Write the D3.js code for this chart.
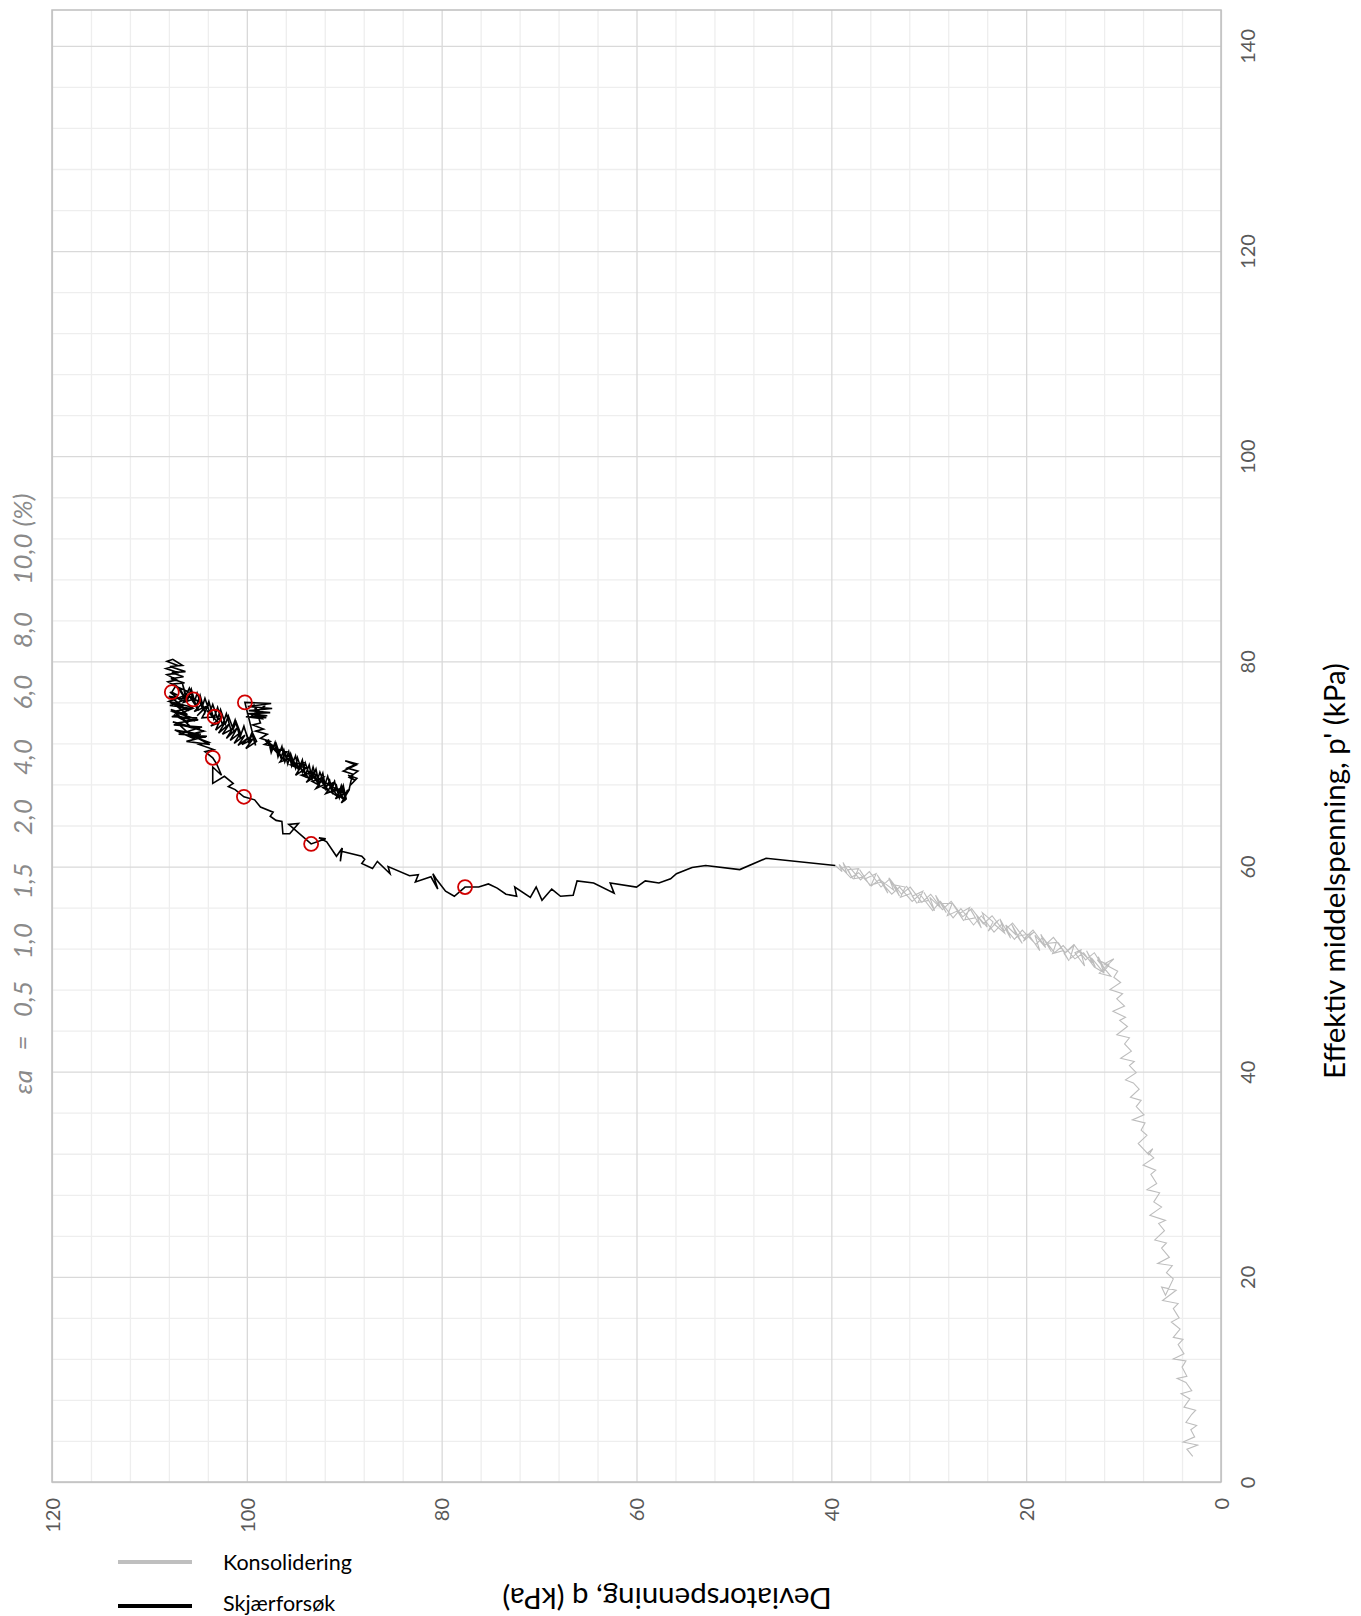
<!DOCTYPE html>
<html><head><meta charset="utf-8">
<script src="https://cdn.jsdelivr.net/npm/d3@7"></script>
<style>
body{margin:0;background:#fff}
svg{display:block}
text{font-family:Lato,"Open Sans",sans-serif}
</style>
</head><body>
<svg id="chart" width="1361" height="1616"></svg>
<script>
// ---------- data ----------
const qTicks = [120, 100, 80, 60, 40, 20, 0];
const pTicks = [0, 20, 40, 60, 80, 100, 120, 140];
const qTickLabels = ["120", "100", "80", "60", "40", "20", "0"];
const pTickLabels = ["0", "20", "40", "60", "80", "100", "120", "140"];
const qMinorTicks = [4,8,12,16,24,28,32,36,44,48,52,56,64,68,72,76,84,88,92,96,104,108,112,116];
const pMinorTicks = [4,8,12,16,24,28,32,36,44,48,52,56,64,68,72,76,84,88,92,96,104,108,112,116,124,128,132,136];

// Konsolidering (q, p') - rising part
const consolidationRise = [
[2.9,2.5],[3.5,3.2],[2.4,3.6],[3.9,3.9],[2.7,4.4],[3.1,5.1],[2.5,5.5],[3.6,5.8],[3.0,6.6],[2.6,7.0],[3.8,7.3],[3.2,8.1],[4.1,8.6],[3.0,8.9],[3.6,9.7],[4.5,10.1],[3.5,10.3],[4.0,11.2],[3.6,11.8],[4.9,12.0],[3.8,12.5],[4.4,13.4],[3.9,13.9],[4.9,14.1],[4.2,14.9],[5.1,15.6],[4.3,16.0],[4.9,16.9],[4.4,17.4],[6.0,17.7],[4.6,18.7],[6.1,19.0],[5.7,18.2],[4.9,19.8],[5.6,20.4],[5.0,21.1],[6.5,21.3],[5.3,21.9],[6.1,22.8],[5.6,23.3],[6.8,23.6],[5.8,24.5],[6.4,25.2],[5.7,25.5],[7.3,26.0],[6.1,26.8],[6.9,27.3],[6.3,28.2],[7.6,28.5],[6.6,29.1],[7.2,30.0],[6.7,30.4],[8.0,30.9],[6.9,31.6],[7.5,32.1],[7.0,32.5],[7.4,31.9],[8.5,33.0],[7.6,33.8],[8.2,34.3],[7.8,35.0],[9.1,35.3],[7.9,35.8],[8.7,36.6],[8.2,37.2],[9.3,37.5],[8.4,38.3],[9.0,38.9],[9.8,39.2],[8.7,39.9],[9.4,40.6],[8.9,41.0],[10.3,41.3],[9.2,42.0],[9.9,42.7],[9.4,43.3],[10.7,43.6],[9.6,44.4],[10.4,45.0],[9.8,45.3],[11.1,45.9],[9.9,46.4],[10.7,47.1],[10.1,47.6],[11.4,48.0],[10.3,48.7],[11.0,49.2],[10.6,49.8],
[12.0,50.5],[11.0,51.0],[12.5,49.6],[11.3,49.3],[12.7,50.9],[11.5,50.4],[12.1,49.7]
];
// Konsolidering - diagonal part, three passes
const consolidationPassA = [
[13.0,50.2],[14.1,51.6],[15.0,51.0],[16.2,52.3],[17.1,51.6],[18.3,53.1],[19.0,52.4],[20.4,53.8],[21.2,52.9],[22.5,54.4],[23.3,53.6],[24.6,55.2],[25.4,54.3],[26.7,55.9],[27.5,55.0],[28.8,56.6],[29.6,55.7],[30.9,57.3],[31.7,56.6],[33.0,58.0],[33.8,57.3],[35.1,58.7],[35.9,58.1],[37.2,59.4],[38.0,58.9],[39.0,59.9]
];
const consolidationPassB = [
[38.2,60.0],[37.0,58.7],[36.1,59.5],[34.9,58.0],[34.0,58.8],[32.8,57.3],[31.9,58.0],[30.7,56.5],[29.8,57.3],[28.6,55.8],[27.7,56.6],[26.5,55.1],[25.6,55.9],[24.4,54.4],[23.5,55.2],[22.3,53.7],[21.4,54.5],[20.2,53.0],[19.3,53.8],[18.1,52.3],[17.2,53.1],[16.0,51.6],[15.1,52.4],[13.9,50.9],[13.0,51.6],[12.0,50.1]
];
const consolidationPassC = [
[12.6,51.2],[12.0,49.6],[13.3,51.1],[12.9,50.2],[13.8,51.8],[13.2,50.6],[14.4,51.7],[14.0,50.3],[15.0,51.6],[14.3,51.9],[15.5,51.0],[15.1,52.3],[16.1,51.5],[15.6,50.8],[16.7,52.6],[16.2,51.8],[17.3,51.5],[16.9,52.6],[17.9,52.5],[17.4,51.7],[18.5,53.4],[18.0,52.1],[19.1,53.3],[18.6,51.8],[19.7,53.3],[19.2,53.6],[20.3,52.7],[19.8,53.4],[20.9,53.2],[20.4,52.5],[21.5,54.4],[21.0,53.3],[22.1,54.3],[21.6,53.0],[22.7,54.9],[22.2,53.5],[23.3,54.4],[22.8,54.8],[23.9,53.7],[23.4,54.6],[24.5,55.5],[24.0,54.1],[25.1,55.3],[24.6,54.0],[25.7,55.8],[25.2,55.0],[26.3,54.8],[25.8,56.0],[26.9,55.4],[26.4,54.7],[27.5,56.3],[27.0,55.7],[28.1,55.2],[27.6,56.4],[28.7,56.4],[28.2,55.5],[29.3,57.2],[28.8,56.0],[29.9,57.0],[29.4,55.7],[30.5,57.5],[30.0,56.7],[31.1,56.5],[30.6,57.6],[31.7,57.1],[31.2,56.4],[32.3,58.1],[31.8,57.4],[32.9,57.0],[32.4,58.0],[33.5,58.2],[33.0,57.1],[34.1,58.9],[33.6,57.7],[34.7,58.5],[34.2,57.4],[35.3,59.2],[34.8,58.5],[35.9,58.2],[35.4,59.3],[36.5,58.8],[36.0,58.1],[37.1,59.7],[36.6,59.0],[37.7,58.8],[37.2,59.8],[38.3,59.7],[37.8,58.8],[38.8,60.4],[38.4,59.3],[39.2,60.2],[38.9,59.5],[39.6,60.1]
];

// Skjærforsøk (q, p') - lower path up to eps = 2 %
const shearRise = [
[39.6,60.1],[46.7,60.8],[49.4,59.7],[52.9,60.1],[54.3,59.9],[55.9,59.3],[56.5,58.8],[57.7,58.4],[59.1,58.6],[60.0,58.0],[62.7,58.4],[62.3,57.4],[64.4,58.4],[66.1,58.6],[66.5,57.2],[67.8,57.1],[68.7,57.8],[69.7,56.7],[70.3,58.0],[70.9,57.0],[72.5,58.0],[72.3,57.1],[73.4,57.3],[74.3,57.9],[75.2,58.3],[76.2,58.0],[77.6,58.0],[78.7,57.1],[79.6,57.6],[80.5,58.7],[80.9,59.3],[80.4,57.8],[81.1,59.0],[82.7,58.5],[82.4,59.2],[83.3,59.1],[85.5,60.0],[85.3,59.3],[86.6,60.5],[87.1,59.8],[88.2,60.3],[87.9,60.7],[88.2,61.0],[90.3,61.5],[90.4,60.5],[90.2,61.8],[90.8,61.0],[91.8,62.4],[92.6,62.8],[91.9,62.7],[93.4,62.2],[95.7,64.1],[94.7,64.2],[95.6,63.2],[96.3,63.2],[96.4,64.4],[97.0,64.5],[97.6,64.9],[97.3,65.3],[98.6,65.8],[99.2,66.5],[100.3,66.8],[101.2,67.5],[101.9,67.8],[101.4,68.1],[102.3,68.8],[103.5,68.1],[103.5,69.7],[102.6,68.9],[103.1,70.0],[103.5,70.6]
];
// left branch up to the peak
const shearPeak = [
[104.3,71.2],[103.4,71.4],[104.9,71.9],[103.9,72.1],[105.6,72.7],[104.2,72.6],[106.3,73.1],[104.7,72.9],[107.4,73.3],[105.3,72.4],[106.9,73.8],[104.8,73.4],[107.6,74.1],[105.6,73.5],[106.9,74.6],[105.3,74.2],[107.5,74.8],[106.0,74.0],[107.8,75.3],[106.1,74.8],[107.3,75.7],[105.9,75.2],[107.9,76.0],[106.5,75.6],[108.0,76.6],
[106.2,76.3],[107.9,75.7],[105.6,75.4],[107.7,74.6],[105.1,74.5],[107.5,73.8],[104.6,73.6],[107.0,72.9],[104.1,72.7],[106.2,72.2],[103.8,71.9],
[105.8,72.9],[104.4,73.2],[107.2,74.0],[105.0,74.3],[107.6,75.1],[105.5,75.5],[108.0,76.1],[106.3,76.7],
[106.8,76.2],[107.9,77.0],[107.1,76.7],[107.7,77.0],[107.3,77.6],[108.1,78.0],[107.2,78.2],[108.2,78.7],[107.0,78.9],[108.3,79.3],[107.1,79.6],[108.2,80.0],[107.6,80.2],[106.6,79.6],[107.9,79.5],[106.3,79.0],[107.7,78.9],[106.5,78.5],[107.8,78.3],[106.4,77.9],[107.6,77.8]
];
// softening branch
const shearSoftening = [
[107.2,77.6],[106.2,76.2],[106.9,77.4],[105.7,76.9],[106.5,76.0],[105.5,76.3],[104.9,75.2],[105.9,76.6],[104.6,75.9],[105.4,75.1],[104.2,75.6],[105.1,74.7],[103.9,75.8],[104.6,74.5],[103.3,74.6],[104.1,75.2],[102.9,74.0],[103.7,73.7],[102.6,74.6],[103.2,73.3],[102.2,74.1],[102.9,73.0],[101.8,73.9],[102.5,72.9],[101.5,73.4],[102.1,72.5],[101.0,73.5],[101.7,72.3],[100.6,73.1],[101.3,72.0],[100.2,72.8],[100.9,71.8],[99.8,72.6],[100.5,71.9],[99.4,72.4],[100.1,71.5],[99.0,72.2],
[99.4,73.0],[99.8,72.1],[100.3,73.7],[100.7,72.6],[101.2,74.3],[101.6,73.2],[102.1,74.9],[102.5,73.8],[103.0,75.5],[103.4,74.4],[103.9,76.1],[104.3,75.0],[104.8,76.7],[105.2,75.6],[105.7,77.3],[106.1,76.2],[106.6,77.8],
[106.3,76.6],[105.9,77.4],[105.4,76.0],[105.1,76.9],[104.6,75.5],[104.3,76.4],[103.8,75.0],[103.5,75.8],[103.0,74.4],[102.7,75.3],[102.2,73.9],[101.9,74.7],[101.4,73.4],[101.1,74.1],[100.6,72.9],[100.3,73.6],[99.8,72.3],[99.5,73.0],[99.1,71.8],
[100.2,76.0],[97.5,75.9],[99.9,75.6],[97.4,75.4],[99.8,75.2],[97.6,75.0],[100.0,74.9],[97.9,74.7],[99.6,74.6],[98.1,75.7],[99.4,74.8],[98.0,74.5],[100.1,74.6],[98.4,74.4],[99.3,75.8],[98.6,74.0],[99.4,73.8],[98.3,73.4],[99.1,73.2],[97.9,72.9],[98.6,72.5],[97.6,72.2],[98.2,71.9],[97.2,71.7],
[98.1,72.3],[96.8,71.0],[97.5,71.9],[96.2,70.4],[97.0,71.5],[95.9,71.2],[96.6,70.2],[95.4,70.6],[96.3,71.0],[95.0,69.8],[95.7,70.9],[94.6,69.5],[95.5,69.9],[94.2,70.1],[95.0,68.9],[93.9,69.6],[94.7,69.8],[93.6,68.6],[94.4,68.9],[93.1,69.2],[93.9,68.2],[92.8,68.9],[93.6,69.3],[92.5,67.9],[93.3,68.3],[92.1,68.7],[92.9,67.6],[91.8,68.1],[92.6,68.6],[91.5,67.3],[92.2,67.7],[91.1,68.2],[91.9,67.1],[90.8,67.5],[91.6,68.0],[90.6,66.8],[91.3,67.2],[90.2,67.7],[90.9,66.6],[90.0,67.1],[90.7,67.6],[89.9,66.4],[90.5,66.9],[89.6,67.3],[90.3,66.2],[89.8,66.6],
[90.1,67.9],[90.5,66.7],[90.8,67.9],[91.2,67.2],[91.5,68.4],[91.9,67.6],[92.2,69.1],[92.6,68.1],[92.9,69.5],[93.3,68.5],[93.6,69.9],[94.0,68.9],[94.3,70.4],[94.7,69.4],[95.0,70.8],[95.4,69.8],[95.7,71.2],[96.1,70.2],[96.4,71.7],[96.8,70.7],[97.1,72.1],[97.5,71.1],[97.8,72.4],
[97.4,71.4],[97.0,72.0],[96.5,70.6],[96.2,71.4],[95.8,70.0],[95.5,71.0],[95.0,69.6],[94.8,70.6],[94.3,69.2],[94.0,70.1],[93.5,68.7],[93.2,69.7],[92.8,68.3],[92.5,69.2],[92.0,67.9],[91.7,68.8],[91.3,67.4],[91.0,68.3],[90.6,67.0],[90.3,67.9],[89.9,66.7],[89.7,67.4],
[89.5,67.5],[89.3,68.4],[89.1,69.0],[90.1,69.3],[88.8,69.9],[89.9,70.3],[88.7,70.0],[89.7,69.6],[88.6,69.3],[89.5,68.7],[88.9,68.4],[89.6,68.9],[88.7,68.6],[89.4,67.9]
];

// Strain markers εa (q, p')
const strainLabels = ["0,5", "1,0", "1,5", "2,0", "4,0", "6,0", "8,0", "10,0"];
const strainPoints = [[77.6,58.0],[93.4,62.2],[100.3,66.8],[103.5,70.6],[107.7,77.0],[105.5,76.3],[103.3,74.6],[100.2,76.0]];

const seriesNames = ["Konsolidering", "Skjærforsøk"];
const xTitle = "Deviatorspenning, q (kPa)";
const yTitle = "Effektiv middelspenning, p' (kPa)";

const consolidation = consolidationRise.concat(consolidationPassA, consolidationPassB, consolidationPassC);
const shear = shearRise.concat(shearPeak, shearSoftening);

// ---------- drawing ----------
const plot = {left:52, right:1221, top:10, bottom:1482};
const svg = d3.select("#chart");
const x = d3.scaleLinear().domain([120, 0]).range([plot.left, plot.right]);
const y = d3.scaleLinear().domain([0, 143.5]).range([plot.bottom, plot.top]);
const ph = plot.bottom - plot.top, pw = plot.right - plot.left;

function grid(g, color) {
  g.selectAll(".domain").remove();
  g.selectAll("line").attr("stroke", color).attr("stroke-width", 1.3);
  g.selectAll("text").remove();
}
svg.append("g").attr("transform", `translate(0,${plot.bottom})`)
  .call(d3.axisBottom(x).tickValues(qMinorTicks).tickSize(-ph).tickFormat(""))
  .call(g => grid(g, "#eeeeee"));
svg.append("g").attr("transform", `translate(${plot.left},0)`)
  .call(d3.axisLeft(y).tickValues(pMinorTicks).tickSize(-pw).tickFormat(""))
  .call(g => grid(g, "#eeeeee"));
svg.append("g").attr("transform", `translate(0,${plot.bottom})`)
  .call(d3.axisBottom(x).tickValues(qTicks).tickSize(-ph).tickFormat(""))
  .call(g => grid(g, "#d9d9d9"));
svg.append("g").attr("transform", `translate(${plot.left},0)`)
  .call(d3.axisLeft(y).tickValues(pTicks).tickSize(-pw).tickFormat(""))
  .call(g => grid(g, "#d9d9d9"));
svg.append("rect").attr("x", plot.left).attr("y", plot.top).attr("width", pw).attr("height", ph)
  .attr("fill", "none").attr("stroke", "#bfbfbf").attr("stroke-width", 1.5);

svg.append("g").attr("transform", `translate(0,${plot.bottom})`)
  .call(d3.axisBottom(x).tickValues(qTicks).tickSize(0).tickFormat((d,i) => qTickLabels[i]))
  .call(g => {
    g.select(".domain").remove();
    g.selectAll("text").attr("transform", "rotate(-90)").attr("x", -16).attr("y", 0)
      .attr("dy", "0.36em").attr("text-anchor", "end")
      .attr("fill", "#595959").style("font-size", "20px");
  });
svg.append("g").attr("transform", `translate(${plot.right},0)`)
  .call(d3.axisRight(y).tickValues(pTicks).tickSize(0).tickFormat((d,i) => pTickLabels[i]))
  .call(g => {
    g.select(".domain").remove();
    g.selectAll("text").attr("transform", "rotate(-90)").attr("x", 0).attr("y", 27)
      .attr("dy", "0.36em").attr("text-anchor", "middle")
      .attr("fill", "#595959").style("font-size", "20px");
  });

const line = d3.line().x(d => x(d[0])).y(d => y(d[1]));
svg.append("path").datum(consolidation).attr("d", line)
  .attr("fill", "none").attr("stroke", "#bdbdbd").attr("stroke-width", 1.1).attr("stroke-linejoin", "miter");
svg.append("path").datum(shear).attr("d", line)
  .attr("fill", "none").attr("stroke", "#000").attr("stroke-width", 1.6).attr("stroke-linejoin", "miter");

svg.append("g").selectAll("circle").data(strainPoints).join("circle")
  .attr("cx", d => x(d[0])).attr("cy", d => y(d[1])).attr("r", 7)
  .attr("fill", "none").attr("stroke", "#d00000").attr("stroke-width", 1.8);

// strain annotation
const annY = [1082, 1043, 999, 941, 881, 817, 757, 692, 630, 559, 510];
const annTokens = ["εa", "="].concat(strainLabels).concat(["(%)"]);
const ann = svg.append("text").attr("transform", "translate(23,0) rotate(-90)")
  .attr("fill", "#8a8a8a").style("font-size", "26px").style("font-style", "italic");
ann.selectAll("tspan").data(annTokens).join("tspan")
  .attr("x", (d,i) => -annY[i]).attr("y", 0).attr("dy", "0.36em").attr("text-anchor", "middle").text(d => d);

svg.append("text").attr("transform", "translate(1334,871) rotate(-90)")
  .attr("text-anchor", "middle").attr("dy", "0.36em").attr("fill", "#000").style("font-size", "29.5px").text(yTitle);
svg.append("text").attr("transform", "translate(667,1599) rotate(180)")
  .attr("text-anchor", "middle").attr("dy", "0.36em").attr("fill", "#000").style("font-size", "29.5px").text(xTitle);

const legend = svg.append("g");
const legY = [1562, 1603];
const legColor = ["#bfbfbf", "#000"];
seriesNames.forEach((name, i) => {
  legend.append("line").attr("x1", 118).attr("x2", 192).attr("y1", legY[i] + (i ? 3 : 0)).attr("y2", legY[i] + (i ? 3 : 0))
    .attr("stroke", legColor[i]).attr("stroke-width", 4);
  legend.append("text").attr("x", 223).attr("y", legY[i]).attr("dy", "0.36em")
    .attr("fill", "#000").style("font-size", "21.5px").text(name);
});
</script>
</body></html>
